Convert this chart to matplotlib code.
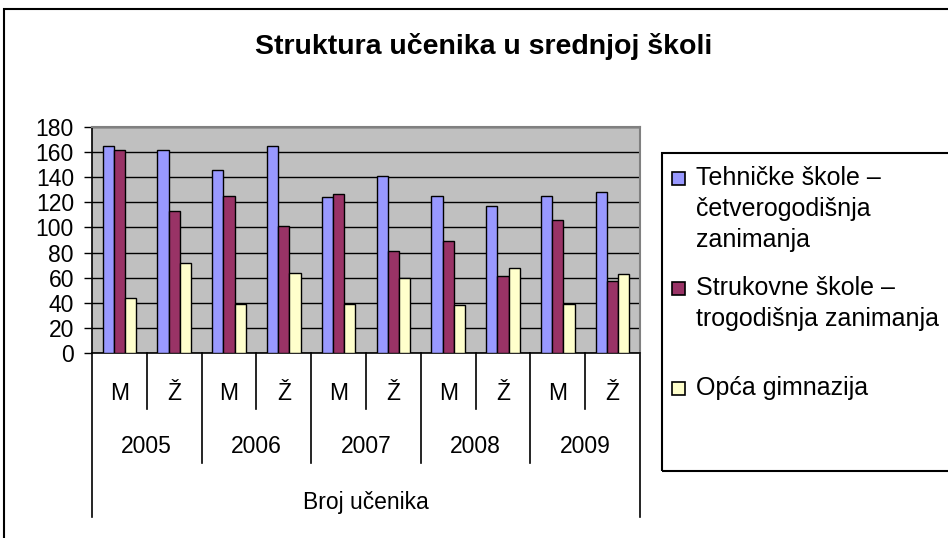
import numpy as np
import matplotlib
matplotlib.use("Agg")
import matplotlib.pyplot as plt
from matplotlib.patches import Rectangle

plt.rcParams['font.family'] = ['Liberation Sans', 'DejaVu Sans']

# data
years = ['2005', '2006', '2007', '2008', '2009']
genders = ['M', 'Ž']
series_names = ['Tehničke škole –\nčetverogodišnja\nzanimanja',
                'Strukovne škole –\ntrogodišnja zanimanja',
                'Opća gimnazija']
tehnicke = [165, 162, 146, 165, 124, 141, 125, 117, 125, 128]
strukovne = [162, 113, 125, 101, 127, 81, 89, 61, 106, 57]
gimnazija = [44, 72, 39, 64, 39, 60, 38, 68, 39, 63]
colors = ['#9999FF', '#993366', '#FFFFCC']

W, H = 948, 538
fig = plt.figure(figsize=(W / 100, H / 100), dpi=100)
fs = 16.5

def fx(x):
    return x / W

def fy(y):
    return 1 - y / H

# outer chart frame (cropped on the right and bottom)
fig.patches.append(Rectangle((fx(4), fy(560)), fx(980), fy(9) - fy(560),
                             transform=fig.transFigure, fill=False,
                             edgecolor='black', linewidth=1.5))

left, right, top, bottom = 92, 640, 127, 353
ax = fig.add_axes([fx(left), fy(bottom), fx(right - left), fy(top) - fy(bottom)])
ax.set_facecolor('#C0C0C0')

n = len(tehnicke)
x = np.arange(n)
bw = 0.205
for i, (vals, c) in enumerate(zip([tehnicke, strukovne, gimnazija], colors)):
    ax.bar(x + (i - 1) * bw, vals, width=bw, color=c, edgecolor='black',
           linewidth=1.0, zorder=3)

ax.set_xlim(-0.5, n - 0.5)
ax.set_ylim(0, 180)
ax.set_yticks(range(0, 181, 20))
ax.yaxis.grid(True, color='black', linewidth=1.0, zorder=0)
ax.set_axisbelow(True)
ax.tick_params(axis='y', labelsize=fs, length=6, width=1, pad=7)
ax.set_xticks([])
for s in ['top', 'right']:
    ax.spines[s].set_color('#808080')
    ax.spines[s].set_linewidth(1.5)
for s in ['left', 'bottom']:
    ax.spines[s].set_color('black')
    ax.spines[s].set_linewidth(1.2)

# multi-level category axis
ph = bottom - top
def ay(y):
    return (bottom - y) / ph

tr = ax.get_xaxis_transform()
for b in np.arange(-0.5, n, 1.0):
    k = int(b + 0.5)
    if k in (0, n):
        end = 517
    elif k % 2 == 0:
        end = 463
    else:
        end = 409
    ax.plot([b, b], [0, ay(end)], color='black', linewidth=1.2,
            transform=tr, clip_on=False)

for i in range(n):
    ax.text(i, ay(393), genders[i % 2], transform=tr, ha='center',
            va='center', fontsize=fs)
for j, yr in enumerate(years):
    ax.text(2 * j + 0.5, ay(447), yr, transform=tr, ha='center',
            va='center', fontsize=fs)
ax.text((n - 1) / 2, ay(502), 'Broj učenika', transform=tr, ha='center',
        va='center', fontsize=fs)

# title
fig.text(fx(484), fy(47), 'Struktura učenika u srednjoj školi',
         ha='center', va='center', fontsize=20.5, fontweight='bold')

# legend
fig.patches.append(Rectangle((fx(662), fy(471)), fx(320), fy(153) - fy(471),
                             transform=fig.transFigure, fill=False,
                             edgecolor='black', linewidth=1.5))
entry_y = [178, 288, 388]
for name, c, ey in zip(series_names, colors, entry_y):
    fig.patches.append(Rectangle((fx(672), fy(ey + 6.5)), fx(13), fy(0) - fy(13),
                                 transform=fig.transFigure, facecolor=c,
                                 edgecolor='black', linewidth=1.2))
    for k, line in enumerate(name.split('\n')):
        fig.text(fx(696), fy(ey + 31 * k), line, ha='left', va='center',
                 fontsize=18)

fig.savefig('out.png', dpi=100)
